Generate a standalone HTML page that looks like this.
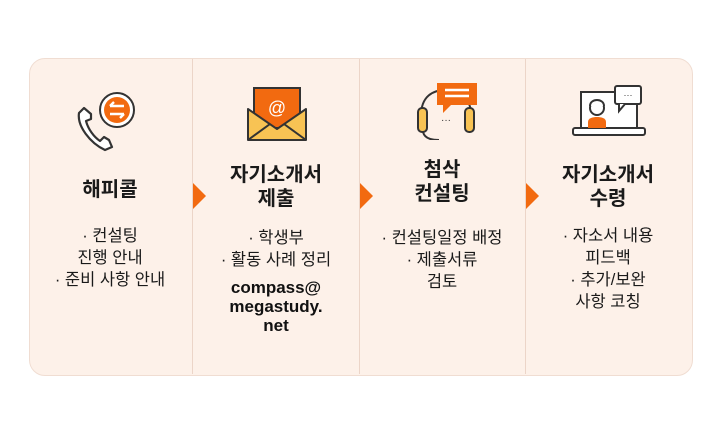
<!DOCTYPE html>
<html><head><meta charset="utf-8"><style>
body{margin:0;width:720px;height:425px;background:#fff;position:relative;overflow:hidden;font-family:"Liberation Sans","Noto Sans CJK KR",sans-serif;color:#1a1a1a}
.panel{position:absolute;left:29px;top:58px;width:662px;height:316px;background:#fdf1e9;border:1px solid #f0ddd2;border-radius:16px}
.div{position:absolute;top:59px;width:1px;height:315px;background:#ecd5c8}
.arr{position:absolute;width:0;height:0;border-top:13px solid transparent;border-bottom:13px solid transparent;border-left:13px solid #f26a10}
.t{position:absolute;text-align:center;font-weight:bold;font-size:20px;line-height:24px;width:166px;color:#1a1a1a}
.b{position:absolute;text-align:center;font-size:16.5px;line-height:22px;width:166px;color:#1a1a1a}
.e{position:absolute;text-align:center;font-size:17px;line-height:19px;width:166px;font-weight:bold;color:#111}
svg{position:absolute}
</style></head><body>
<div class="panel"></div>
<div class="div" style="left:192px"></div>
<div class="div" style="left:359px"></div>
<div class="div" style="left:525px"></div>
<div class="arr" style="left:193px;top:183px"></div>
<div class="arr" style="left:360px;top:183px"></div>
<div class="arr" style="left:526px;top:183px"></div>

<!-- icon 1 -->
<svg style="left:76px;top:90px" width="70" height="62" viewBox="0 0 70 62">
<path d="M8 18 L3 23 C1 36 14 53 29 60 L36 57 L33 50 L28 47 L24 51 C18 47 12 39 10 31 L15 29 L15 24 Z" fill="#fff" stroke="#333" stroke-width="2.2" stroke-linejoin="round"/>
<circle cx="41" cy="20" r="17" fill="#fff" stroke="#333" stroke-width="2"/>
<circle cx="41" cy="20" r="13" fill="#f26a10"/>
<path d="M34 16 H48 M34 16 l4 -4 M34 24 H48 M48 24 l-4 4" stroke="#fff" stroke-width="2.4" fill="none"/>
</svg>
<!-- icon 2 -->
<svg style="left:246px;top:83px" width="62" height="60" viewBox="0 0 62 60">
<rect x="8" y="5" width="46" height="40" fill="#f26a10" stroke="#333" stroke-width="2"/>
<text x="31" y="31" text-anchor="middle" fill="#fff" font-size="18" font-family="Liberation Sans">@</text>
<path d="M2 26 L2 57 L60 57 L60 26 L31 46 Z" fill="#f8c354" stroke="#333" stroke-width="2" stroke-linejoin="round"/>
<path d="M2 57 L24 41 M60 57 L38 41" stroke="#333" stroke-width="2"/>
</svg>
<!-- icon 3 -->
<svg style="left:415px;top:82px" width="62" height="58" viewBox="0 0 62 58">
<path d="M6 34 C6 14 18 8 31 8 C44 8 56 14 56 34" fill="none" stroke="#333" stroke-width="2"/>
<rect x="3" y="26" width="9" height="24" rx="4" fill="#f8c354" stroke="#333" stroke-width="2"/>
<rect x="50" y="26" width="9" height="24" rx="4" fill="#f8c354" stroke="#333" stroke-width="2"/>
<path d="M8 50 C10 58 20 58 24 58" fill="none" stroke="#333" stroke-width="2"/>
<rect x="22" y="1" width="40" height="22" fill="#f26a10"/>
<path d="M28 23 L28 31 L36 23 Z" fill="#f26a10"/>
<path d="M30 8 H54 M30 14 H54" stroke="#fff" stroke-width="2.5"/>
<text x="31" y="41" text-anchor="middle" font-size="10" fill="#333">···</text>
</svg>
<!-- icon 4 -->
<svg style="left:571px;top:84px" width="76" height="52" viewBox="0 0 76 52">
<rect x="10" y="8" width="56" height="38" fill="#fff" stroke="#333" stroke-width="2"/>
<rect x="2" y="44" width="72" height="7" rx="2" fill="#fff" stroke="#333" stroke-width="2"/>
<rect x="44" y="2" width="26" height="18" rx="2" fill="#fff" stroke="#333" stroke-width="2"/>
<path d="M48 20 L48 27 L54 20" fill="#fff" stroke="#333" stroke-width="2"/>
<text x="57" y="14" text-anchor="middle" font-size="9" fill="#333">···</text>
<path d="M17 44 L17 38 C17 34 22 33 26 33 C30 33 35 34 35 38 L35 44 Z" fill="#f26a10"/>
<circle cx="26" cy="24" r="7" fill="#fff" stroke="#333" stroke-width="2"/>
<path d="M19 22 C19 14 33 14 33 22" fill="#fff" stroke="#333" stroke-width="2"/>
</svg>

<div class="t" style="left:27px;top:178px">해피콜</div>
<div class="b" style="left:27px;top:225px">· 컨설팅<br>진행 안내<br>· 준비 사항 안내</div>

<div class="t" style="left:193px;top:163px">자기소개서<br>제출</div>
<div class="b" style="left:193px;top:227px">· 학생부<br>· 활동 사례 정리</div>
<div class="e" style="left:193px;top:278px">compass@<br>megastudy.<br>net</div>

<div class="t" style="left:359px;top:158px">첨삭<br>컨설팅</div>
<div class="b" style="left:359px;top:227px">· 컨설팅일정 배정<br>· 제출서류<br>검토</div>

<div class="t" style="left:525px;top:163px">자기소개서<br>수령</div>
<div class="b" style="left:525px;top:225px">· 자소서 내용<br>피드백<br>· 추가/보완<br>사항 코칭</div>
</body></html>
